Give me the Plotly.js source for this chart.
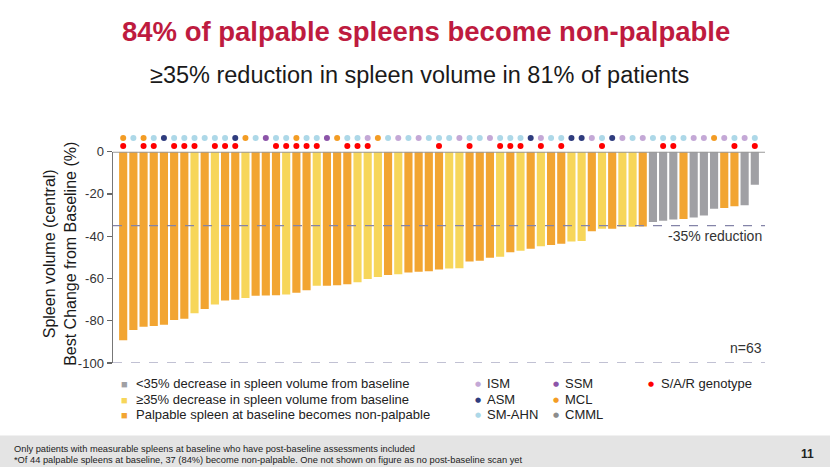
<!DOCTYPE html>
<html><head><meta charset="utf-8">
<script src="https://cdn.plot.ly/plotly-3.0.1.min.js"></script>
<style>html,body{margin:0;padding:0;background:#fff;}#chart{width:830px;height:467px;}</style>
</head><body><div id="chart"></div>
<script>
// ---- data ----
const patients = [1,2,3,4,5,6,7,8,9,10,11,12,13,14,15,16,17,18,19,20,21,22,23,24,25,26,27,28,29,30,31,32,33,34,35,36,37,38,39,40,41,42,43,44,45,46,47,48,49,50,51,52,53,54,55,56,57,58,59,60,61,62,63];
const bestChange = [-89.2,-84.4,-82.9,-82.5,-81.9,-79.7,-79.1,-76.4,-74.5,-72.3,-70.4,-70.1,-69.2,-68.2,-68.0,-67.9,-67.6,-66.7,-65.6,-63.4,-63.4,-63.2,-62.7,-61.8,-60.2,-59.3,-58.3,-58.0,-57.2,-56.8,-56.6,-55.7,-55.3,-55.2,-52.0,-51.6,-50.2,-49.7,-47.6,-46.9,-45.9,-44.7,-44.2,-43.6,-42.5,-42.3,-37.6,-36.5,-36.5,-35.5,-35.5,-35.4,-33.3,-32.7,-32.1,-31.9,-31.1,-30.2,-27.0,-26.7,-25.8,-25.3,-15.6];
// P = palpable spleen becomes non-palpable, Y = >=35% decrease, G = <35% decrease
const responseGroup = ['P','P','P','P','P','P','P','Y','P','Y','P','P','Y','P','P','P','Y','P','P','Y','P','P','P','Y','Y','Y','P','Y','P','P','P','P','Y','Y','P','P','P','Y','P','Y','P','Y','P','P','Y','Y','P','Y','P','Y','Y','P','G','G','G','P','G','G','G','P','P','G','G'];
const subtype = ['MCL','SM-AHN','MCL','SM-AHN','ASM','SM-AHN','SM-AHN','SM-AHN','SM-AHN','SM-AHN','SM-AHN','ASM','MCL','SM-AHN','SSM','SM-AHN','SM-AHN','MCL','SM-AHN','SM-AHN','SSM','MCL','SM-AHN','SM-AHN','ISM','MCL','SM-AHN','ISM','SM-AHN','ISM','SM-AHN','SM-AHN','SM-AHN','ISM','SM-AHN','SM-AHN','ISM','SM-AHN','SM-AHN','SM-AHN','ASM','ISM','SM-AHN','SM-AHN','ASM','ASM','ISM','SM-AHN','ASM','ISM','SM-AHN','ISM','SM-AHN','SM-AHN','SM-AHN','SM-AHN','ISM','ISM','MCL','ISM','SM-AHN','ISM','SM-AHN'];
const sarGenotype = [1,0,1,1,0,1,1,1,0,1,1,1,0,0,0,1,1,1,1,1,0,0,1,1,1,0,0,0,0,0,0,1,0,0,1,0,0,1,1,1,0,1,0,1,0,0,0,1,0,0,0,0,0,1,1,0,0,0,0,0,1,0,1];
const reductionLine = -35;
const yTicks = [0,-20,-40,-60,-80,-100];
const nLabel = 'n=63';

const groupNames = {G:'<35% decrease in spleen volume from baseline', Y:'≥35% decrease in spleen volume from baseline', P:'Palpable spleen at baseline becomes non-palpable'};
const groupColors = {G:'#A0A0A4', Y:'#F7D65A', P:'#F2A532'};
const subtypeOrder = ['ISM','ASM','SM-AHN','SSM','MCL','CMML'];
const subtypeColors = {'ISM':'#C4A8D6','ASM':'#2F3C7E','SM-AHN':'#ADD8E8','SSM':'#8C54A8','MCL':'#F39C24','CMML':'#8C8C8C'};
const sarColor = '#FF0000';

// ---- pixel helpers for layout placement ----
const L=113, R=765, T=133, B=363.3;
const px = v => (v-L)/(R-L);
const py = v => (B-v)/(B-T);

const traces = [];
['P','Y','G'].forEach(g => {
  const xs=[], ys=[];
  patients.forEach((p,i)=>{ if(responseGroup[i]===g){ xs.push(p); ys.push(bestChange[i]); } });
  traces.push({type:'bar', x:xs, y:ys, name:groupNames[g], width:0.8,
    marker:{color:groupColors[g], line:{width:0}}, showlegend:false, hoverinfo:'x+y'});
});
subtypeOrder.forEach(s => {
  const xs=[];
  patients.forEach((p,i)=>{ if(subtype[i]===s) xs.push(p); });
  if(!xs.length) return;
  traces.push({type:'scatter', mode:'markers', x:xs, y:xs.map(()=>1), yaxis:'y2',
    marker:{color:subtypeColors[s], size:6}, showlegend:false, name:s});
});
(() => {
  const xs=[];
  patients.forEach((p,i)=>{ if(sarGenotype[i]) xs.push(p); });
  traces.push({type:'scatter', mode:'markers', x:xs, y:xs.map(()=>0), yaxis:'y2',
    marker:{color:sarColor, size:6}, showlegend:false, name:'S/A/R genotype'});
})();

const font = 'Liberation Sans, Arial, sans-serif';
const annotations = [
  {text:'<b>84% of palpable spleens become non-palpable</b>', x:px(426), y:py(31), xref:'paper', yref:'paper', showarrow:false, xanchor:'center', yanchor:'middle', font:{family:font, size:27.5, color:'#BE1B3F'}},
  {text:'≥35% reduction in spleen volume in 81% of patients', x:px(419.5), y:py(75), xref:'paper', yref:'paper', showarrow:false, xanchor:'center', yanchor:'middle', font:{family:font, size:23.5, color:'#1a1a1a'}},
  {text:'Spleen volume (central)<br>Best Change from Baseline (%)', x:px(60), y:py(254), xref:'paper', yref:'paper', showarrow:false, xanchor:'center', yanchor:'middle', textangle:-90, font:{family:font, size:16, color:'#1a1a1a'}},
  {text:'-35% reduction', x:px(764), y:py(236), xref:'paper', yref:'paper', showarrow:false, xanchor:'right', yanchor:'middle', font:{family:font, size:14, color:'#333'}},
  {text:nLabel, x:px(764), y:py(348), xref:'paper', yref:'paper', showarrow:false, xanchor:'right', yanchor:'middle', font:{family:font, size:14, color:'#333'}},
];
// legend: response groups
const legRows = [384, 399.5, 414.5];
['G','Y','P'].forEach((g,k)=>{
  annotations.push({text:'<span style="color:'+groupColors[g]+'">■</span>', x:px(124), y:py(legRows[k]+0.5), xref:'paper', yref:'paper', showarrow:false, xanchor:'center', yanchor:'middle', font:{family:font, size:11}});
  annotations.push({text:groupNames[g], x:px(134), y:py(legRows[k]), xref:'paper', yref:'paper', showarrow:false, xanchor:'left', yanchor:'middle', font:{family:font, size:13, color:'#222'}});
});
const legSub = [['ISM',478,0],['ASM',478,1],['SM-AHN',478,2],['SSM',556,0],['MCL',556,1],['CMML',556,2]];
legSub.forEach(([s,xx,r])=>{
  annotations.push({text:'<span style="color:'+subtypeColors[s]+'">●</span>', x:px(xx), y:py(legRows[r]+0.5), xref:'paper', yref:'paper', showarrow:false, xanchor:'center', yanchor:'middle', font:{family:'DejaVu Sans', size:7}});
  annotations.push({text:s, x:px(xx+7), y:py(legRows[r]), xref:'paper', yref:'paper', showarrow:false, xanchor:'left', yanchor:'middle', font:{family:font, size:13, color:'#222'}});
});
annotations.push({text:'<span style="color:'+sarColor+'">●</span>', x:px(651), y:py(legRows[0]+0.5), xref:'paper', yref:'paper', showarrow:false, xanchor:'center', yanchor:'middle', font:{family:'DejaVu Sans', size:7}});
annotations.push({text:'S/A/R genotype', x:px(659), y:py(legRows[0]), xref:'paper', yref:'paper', showarrow:false, xanchor:'left', yanchor:'middle', font:{family:font, size:13, color:'#222'}});
// footer
annotations.push({text:'Only patients with measurable spleens at baseline who have post-baseline assessments included', x:px(12), y:py(449), xref:'paper', yref:'paper', showarrow:false, xanchor:'left', yanchor:'middle', font:{family:font, size:9.3, color:'#222'}});
annotations.push({text:'*Of 44 palpable spleens at baseline, 37 (84%) become non-palpable. One not shown on figure as no post-baseline scan yet', x:px(12), y:py(460), xref:'paper', yref:'paper', showarrow:false, xanchor:'left', yanchor:'middle', font:{family:font, size:9.3, color:'#222'}});
annotations.push({text:'<b>11</b>', x:px(807), y:py(454), xref:'paper', yref:'paper', showarrow:false, xanchor:'center', yanchor:'middle', font:{family:font, size:12, color:'#222'}});

const shapes = [
  {type:'rect', xref:'paper', yref:'paper', x0:px(0), x1:px(830), y0:py(436), y1:py(470), fillcolor:'#E4E4E4', line:{width:0}, layer:'below'},
  {type:'line', xref:'paper', yref:'y', x0:0, x1:1, y0:reductionLine, y1:reductionLine, line:{color:'#8484A8', width:1.2, dash:'dash'}},
  {type:'line', xref:'paper', yref:'y', x0:0, x1:1, y0:-100, y1:-100, line:{color:'#8484A8', width:1.2, dash:'dash'}},
  {type:'line', xref:'paper', yref:'y', x0:0, x1:1, y0:0, y1:0, line:{color:'#9A9A9A', width:2}},
];

const layout = {
  width:830, height:467,
  margin:{l:L, r:830-R, t:T, b:467-B, pad:0},
  paper_bgcolor:'#fff', plot_bgcolor:'#fff',
  barmode:'overlay', showlegend:false,
  font:{family:font, color:'#333'},
  xaxis:{range:[0,64], showticklabels:false, ticks:'', showgrid:false, zeroline:false, showline:false, fixedrange:true},
  yaxis:{domain:[0, py(151.7)], range:[-100,0], tickvals:yTicks, ticktext:yTicks.map(String), ticks:'outside', ticklen:5, tickcolor:'#666', tickwidth:1.2,
    showline:true, linecolor:'#777', linewidth:1.5, showgrid:false, zeroline:false, tickfont:{family:font, size:13, color:'#333'}},
  yaxis2:{domain:[py(151.5),1], range:[-0.6875,1.625], visible:false, anchor:'x', showgrid:false, zeroline:false},
  annotations, shapes
};
Plotly.newPlot('chart', traces, layout, {staticPlot:true, displayModeBar:false});
</script></body></html>
